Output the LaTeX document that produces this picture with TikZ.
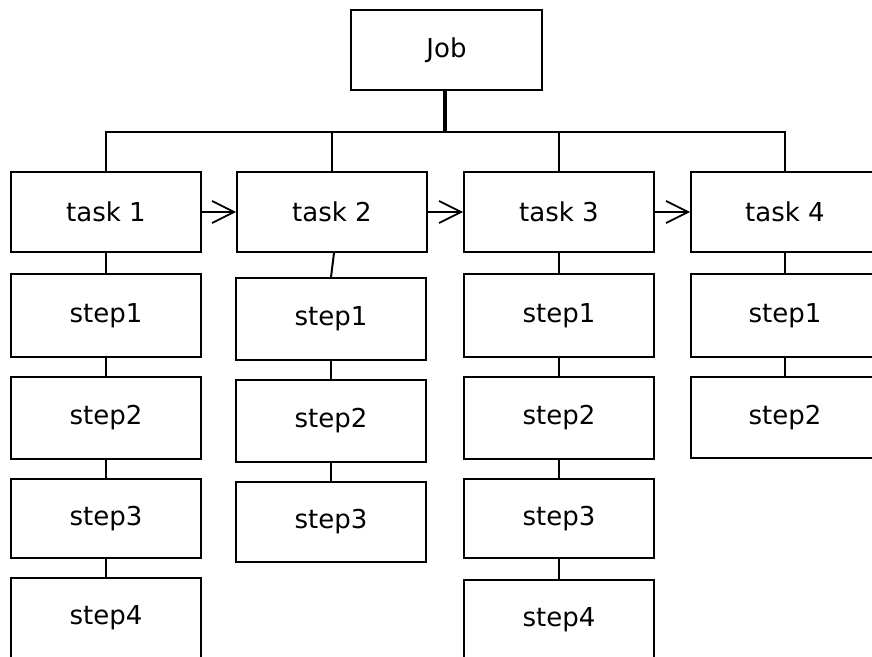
\documentclass[tikz,border=0pt]{standalone}
\usepackage{fontspec}
\setmainfont{DejaVu Sans}
\usetikzlibrary{arrows.meta}
\begin{document}
\begin{tikzpicture}[x=1pt,y=-1pt,
  box/.style={draw,line width=1.8pt,rectangle,inner sep=0pt,font=\fontsize{26}{29}\selectfont},
  link/.style={line width=2pt},
  nextarrow/.style={line width=1.8pt,-{Straight Barb[length=22pt,width=22pt,line width=1.8pt]}}]
\useasboundingbox (0,0) rectangle (872,656);
\clip (0,0) rectangle (872,656);
% job
\node[box,minimum width=191pt,minimum height=80pt] (job) at (446.5,50) {Job};
% tasks
\node[box,minimum width=190pt,minimum height=80pt] (t1) at (106,212) {task 1};
\node[box,minimum width=190pt,minimum height=80pt] (t2) at (332,212) {task 2};
\node[box,minimum width=190pt,minimum height=80pt] (t3) at (559,212) {task 3};
\node[box,minimum width=188pt,minimum height=80pt] (t4) at (785,212) {task 4};
% column 1
\node[box,minimum width=190pt,minimum height=83pt] (a1) at (106,315.5) {step1};
\node[box,minimum width=190pt,minimum height=82pt] (a2) at (106,418) {step2};
\node[box,minimum width=190pt,minimum height=79pt] (a3) at (106,518.5) {step3};
\node[box,minimum width=190pt,minimum height=80pt] (a4) at (106,618) {step4};
% column 2
\node[box,minimum width=190pt,minimum height=82pt] (b1) at (331,319) {step1};
\node[box,minimum width=190pt,minimum height=82pt] (b2) at (331,421) {step2};
\node[box,minimum width=190pt,minimum height=80pt] (b3) at (331,522) {step3};
% column 3
\node[box,minimum width=190pt,minimum height=83pt] (c1) at (559,315.5) {step1};
\node[box,minimum width=190pt,minimum height=82pt] (c2) at (559,418) {step2};
\node[box,minimum width=190pt,minimum height=79pt] (c3) at (559,518.5) {step3};
\node[box,minimum width=190pt,minimum height=80pt] (c4) at (559,620) {step4};
% column 4
\node[box,minimum width=188pt,minimum height=83pt] (d1) at (785,315.5) {step1};
\node[box,minimum width=188pt,minimum height=81pt] (d2) at (785,417.5) {step2};
% bus
\coordinate (bus) at (445,132);
\draw[line width=3.5pt] (job.south -| bus) -- (bus);
\draw[line width=2pt] (t1.north) |- (bus) -| (t4.north);
\draw[link] (t2.north) -- (t2.north |- bus);
\draw[link] (t3.north) -- (t3.north |- bus);
% arrows between tasks
\draw[nextarrow] (t1.east) -- (t2.west);
\draw[nextarrow] (t2.east) -- (t3.west);
\draw[nextarrow] (t3.east) -- (t4.west);
% column links
\draw[link] (t1.south) -- (a1.north);
\draw[link] (a1.south) -- (a2.north);
\draw[link] (a2.south) -- (a3.north);
\draw[link] (a3.south) -- (a4.north);
\draw[link] ([xshift=2pt]t2.south) -- (b1.north);
\draw[link] (b1.south) -- (b2.north);
\draw[link] (b2.south) -- (b3.north);
\draw[link] (t3.south) -- (c1.north);
\draw[link] (c1.south) -- (c2.north);
\draw[link] (c2.south) -- (c3.north);
\draw[link] (c3.south) -- (c4.north);
\draw[link] (t4.south) -- (d1.north);
\draw[link] (d1.south) -- (d2.north);
\end{tikzpicture}
\end{document}
